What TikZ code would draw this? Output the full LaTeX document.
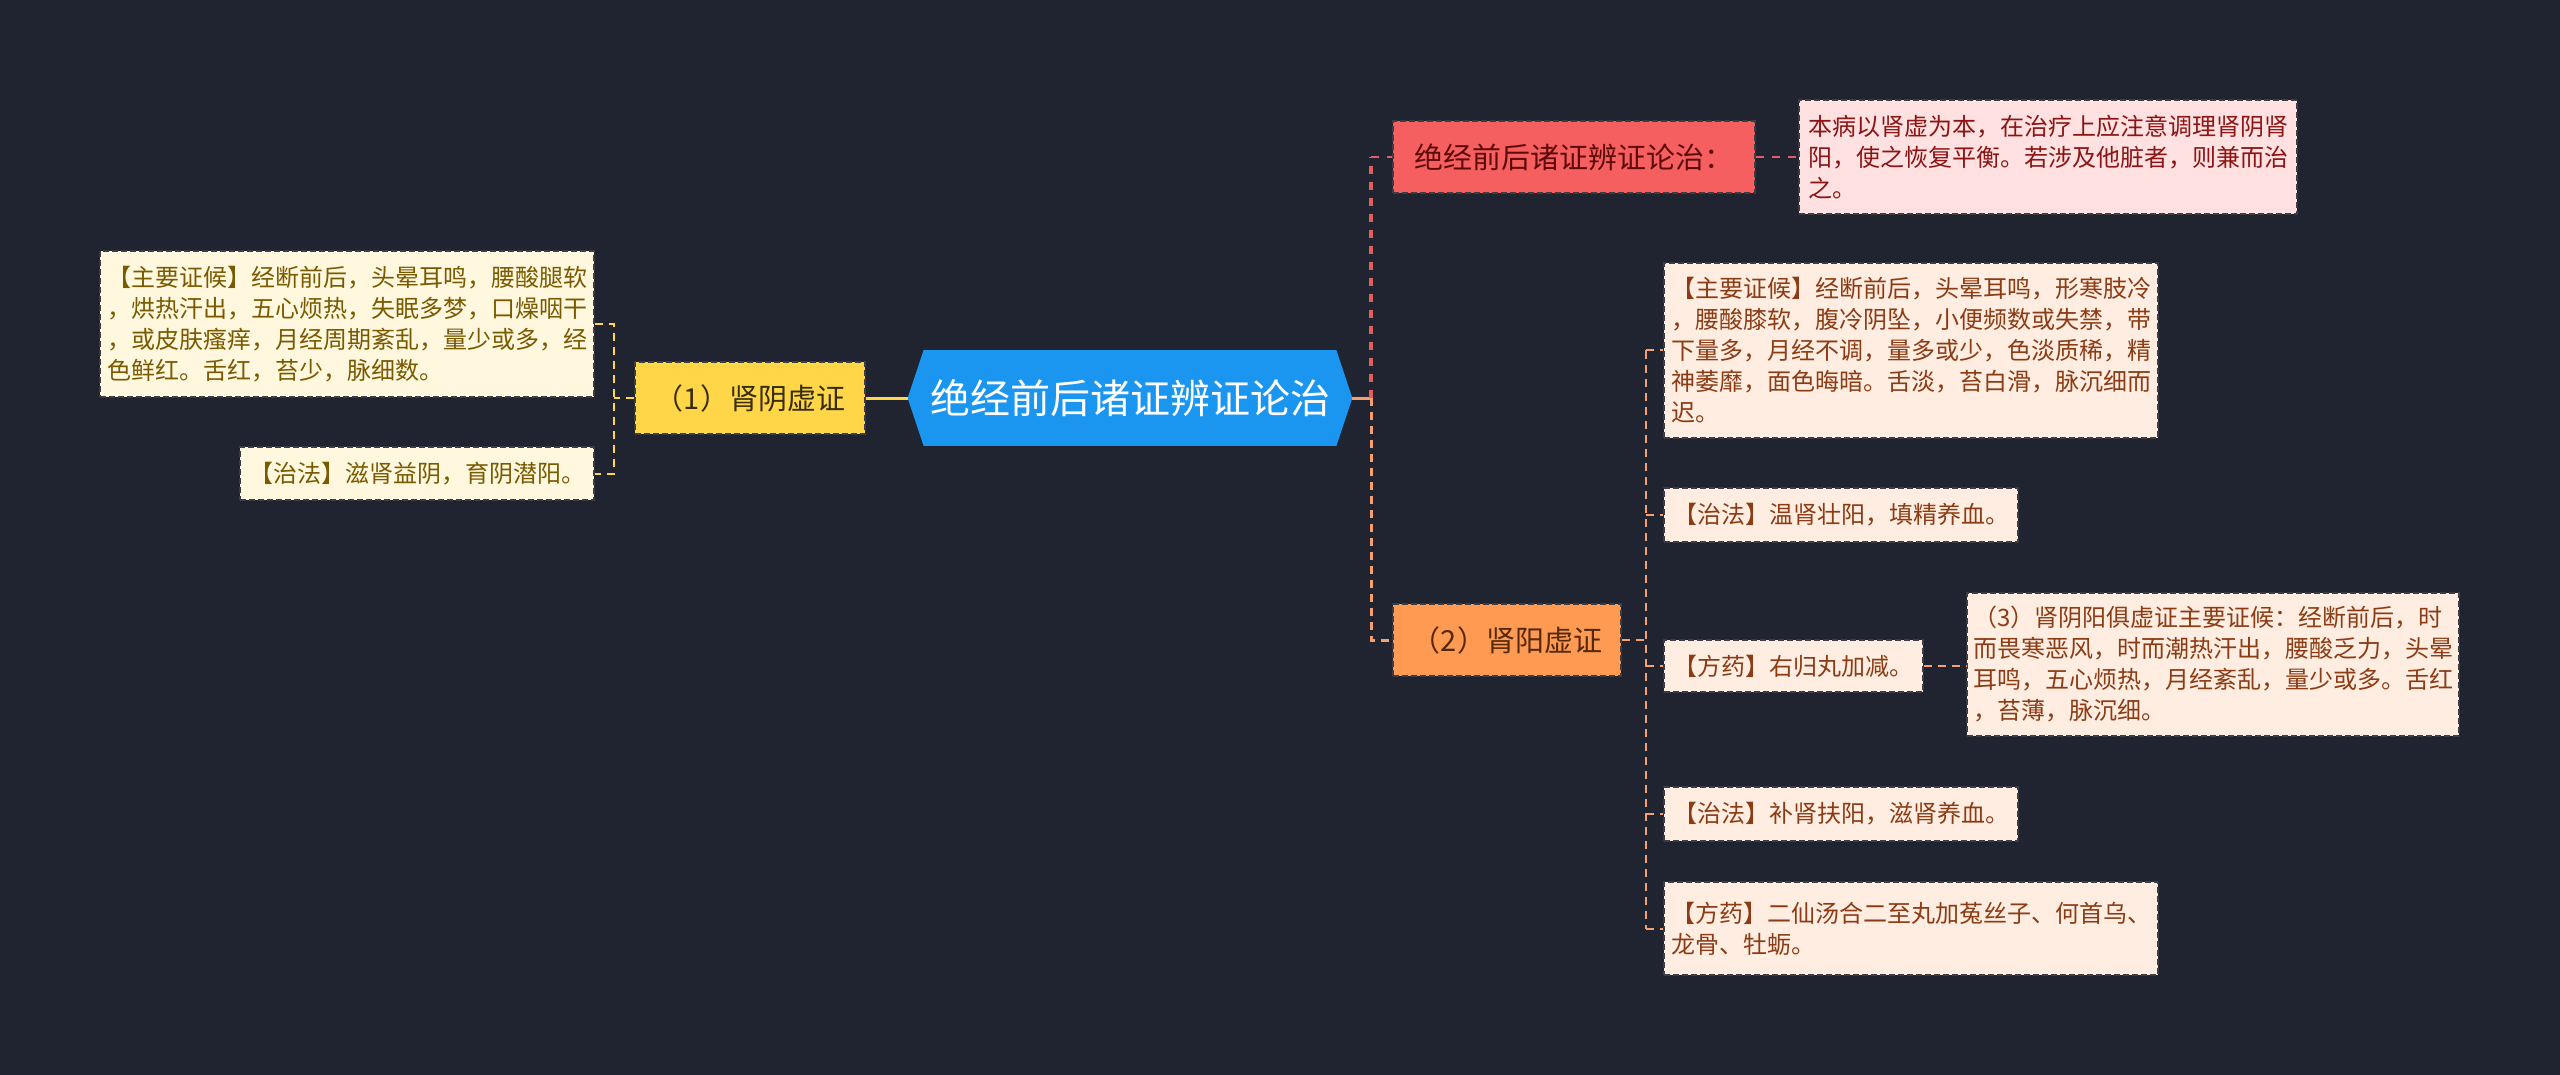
\documentclass[tikz,border=0pt]{standalone}
\usepackage{fontspec}
\setmainfont{Noto Sans CJK SC}
\usetikzlibrary{backgrounds,calc}
\definecolor{bgc}{RGB}{32,35,48}
\definecolor{rootc}{RGB}{26,150,240}
\definecolor{yelc}{RGB}{255,214,72}
\definecolor{yeltext}{RGB}{55,45,10}
\definecolor{creamc}{RGB}{255,248,222}
\definecolor{creamtext}{RGB}{122,90,0}
\definecolor{redc}{RGB}{245,95,95}
\definecolor{redtext}{RGB}{95,10,10}
\definecolor{pinkc}{RGB}{255,225,225}
\definecolor{pinktext}{RGB}{140,20,20}
\definecolor{orangec}{RGB}{255,154,82}
\definecolor{orangetext}{RGB}{85,40,10}
\definecolor{peachc}{RGB}{255,237,225}
\definecolor{peachtext}{RGB}{140,60,20}
\definecolor{borderc}{RGB}{60,60,66}
\definecolor{redline}{RGB}{225,95,95}
\definecolor{oline}{RGB}{245,160,110}
\begin{document}
\begin{tikzpicture}[x=0.5pt,y=-0.5pt,
  box/.style={draw=borderc, dash pattern=on 3pt off 1.5pt, line width=0.8pt,
    inner sep=0pt, align=left, anchor=center,
    font=\fontsize{12pt}{15.5pt}\selectfont},
  midbox/.style={box, font=\fontsize{14.5pt}{17pt}\selectfont},
  conn/.style={dash pattern=on 4pt off 3pt, line width=1pt},
  yconn/.style={conn, draw=yelc},
  rconn/.style={dash pattern=on 4pt off 4pt, line width=2pt, draw=redline},
  oconn/.style={conn, draw=oline}]
\begin{scope}[on background layer]
\fill[bgc] (0,0) rectangle (2560,1075);
\end{scope}
\useasboundingbox (0,0) rectangle (2560,1075);

% root
\node[inner sep=0pt, minimum width=222pt, minimum height=47.5pt,
  text=white, font=\fontsize{20pt}{24pt}\selectfont] (root) at (1130,398) {绝经前后诸证辨证论治};
\begin{scope}[on background layer]
\fill[rootc] (root.west) -- ([xshift=8pt]root.north west) -- ([xshift=-8pt]root.north east)
  -- (root.east) -- ([xshift=-8pt]root.south east) -- ([xshift=8pt]root.south west) -- cycle;
\end{scope}

% left branch
\node[midbox, fill=yelc, text=yeltext, minimum width=115pt, minimum height=36pt] (yel) at (750,398) {（1）肾阴虚证};
\node[box, fill=creamc, text=creamtext, minimum width=247pt, minimum height=73pt] (L1) at (347,324)
  {【主要证候】经断前后，头晕耳鸣，腰酸腿软\\，烘热汗出，五心烦热，失眠多梦，口燥咽干\\，或皮肤瘙痒，月经周期紊乱，量少或多，经\\色鲜红。舌红，苔少，脉细数。};
\node[box, fill=creamc, text=creamtext, minimum width=177pt, minimum height=26.5pt] (L2) at (417,473.5)
  {【治法】滋肾益阴，育阴潜阳。};

% right branch
\node[midbox, fill=redc, text=redtext, minimum width=181pt, minimum height=36pt] (red) at (1574,157) {绝经前后诸证辨证论治：};
\node[box, fill=pinkc, text=pinktext, minimum width=249pt, minimum height=57pt] (pink) at (2048,157)
  {本病以肾虚为本，在治疗上应注意调理肾阴肾\\阳，使之恢复平衡。若涉及他脏者，则兼而治\\之。};
\node[midbox, fill=orangec, text=orangetext, minimum width=114pt, minimum height=36pt] (orange) at (1507,640) {（2）肾阳虚证};

\node[box, fill=peachc, text=peachtext, minimum width=247pt, minimum height=87.5pt] (R1) at (1911,350.5)
  {【主要证候】经断前后，头晕耳鸣，形寒肢冷\\，腰酸膝软，腹冷阴坠，小便频数或失禁，带\\下量多，月经不调，量多或少，色淡质稀，精\\神萎靡，面色晦暗。舌淡，苔白滑，脉沉细而\\迟。};
\node[box, fill=peachc, text=peachtext, minimum width=177pt, minimum height=27pt] (R2) at (1841,515)
  {【治法】温肾壮阳，填精养血。};
\node[box, fill=peachc, text=peachtext, minimum width=129.5pt, minimum height=26pt] (R3) at (1793.5,666)
  {【方药】右归丸加减。};
\node[box, fill=peachc, text=peachtext, minimum width=246pt, minimum height=71.5pt] (R4) at (2213,664.5)
  {（3）肾阴阳俱虚证主要证候：经断前后，时\\而畏寒恶风，时而潮热汗出，腰酸乏力，头晕\\耳鸣，五心烦热，月经紊乱，量少或多。舌红\\，苔薄，脉沉细。};
\node[box, fill=peachc, text=peachtext, minimum width=177pt, minimum height=27pt] (R5) at (1841,814)
  {【治法】补肾扶阳，滋肾养血。};
\node[box, fill=peachc, text=peachtext, minimum width=247pt, minimum height=46.5pt] (R6) at (1911,928.5)
  {【方药】二仙汤合二至丸加菟丝子、何首乌、\\龙骨、牡蛎。};

% connectors left
\coordinate (lj) at (614,398);
\draw[draw=yelc, line width=1.5pt] (root.west) -- (yel.east);
\draw[yconn] (yel.west) -- (lj);
\draw[yconn] (L1.east) -- (L1.east -| lj) -- (L2.east -| lj) -- (L2.east);

% connectors right
\coordinate (rj) at (1371,398);
\draw[draw=oline, line width=1.5pt] (root.east) -- (rj);
\draw[oconn, line width=1.5pt] (rj) -- (rj |- orange.west) -- (orange.west);
\draw[rconn] (rj) -- (rj |- red.west);
\draw[rconn, line width=1pt] (rj |- red.west) -- (red.west);
\draw[rconn, line width=1pt] (red.east) -- (pink.west);
\coordinate (oj) at (1646,640);
\draw[oconn] (orange.east) -- (oj);
\draw[oconn] (oj |- R1.west) -- (oj |- R6.west);
\foreach \n in {R1,R2,R3,R5,R6} \draw[oconn] (oj |- \n.west) -- (\n.west);
\draw[oconn] (R3.east) -- (R3.east -| R4.west);
\end{tikzpicture}
\end{document}
